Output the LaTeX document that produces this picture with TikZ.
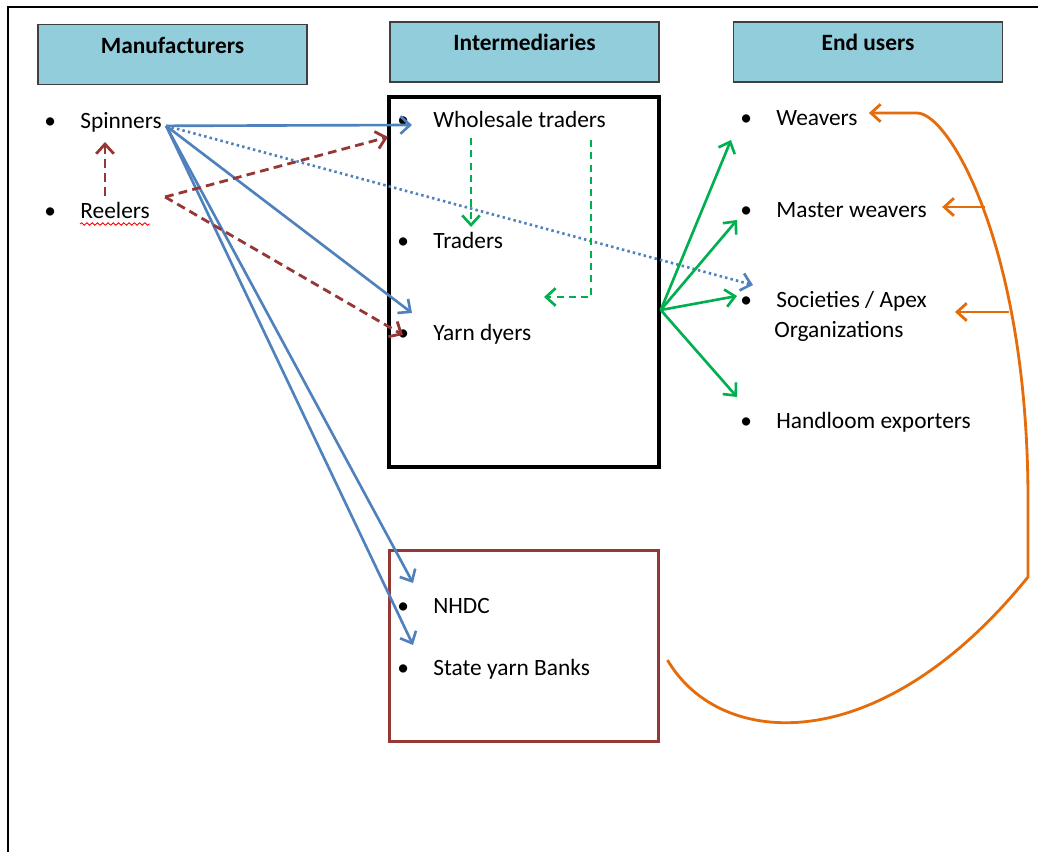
\documentclass[tikz,border=0pt]{standalone}
\usepackage{fontspec}
\setmainfont{Carlito}
\usetikzlibrary{arrows.meta, decorations.pathmorphing}
\definecolor{hdrfill}{HTML}{92CDDC}
\definecolor{hdrline}{HTML}{3F3F3F}
\definecolor{flowblue}{HTML}{4F81BD}
\definecolor{flowred}{HTML}{953735}
\definecolor{flowgreen}{HTML}{00B050}
\definecolor{floworange}{HTML}{E46C0A}
\newcommand{\bul}{\makebox[0.72cm][l]{\textbullet}}

\begin{document}
\begin{tikzpicture}[
    x=0.02cm, y=-0.02cm,
    font=\fontsize{13.3}{16}\selectfont,
    hdr/.style={draw=hdrline, fill=hdrfill, line width=0.9pt, minimum width=5.38cm, minimum height=1.2cm, text height=0.34cm, text depth=0.38cm, inner ysep=0.24cm, font=\fontsize{13.3}{16}\selectfont\bfseries},
    grp/.style={draw=#1, line width=2pt, minimum width=5.4cm},
    item/.style={anchor=base west, inner sep=0pt},
    arr/.style={-{Straight Barb[length=5.5pt, width=10pt]}, line width=1.5pt, color=#1},
    redash/.style={arr=flowred, line width=1.6pt, dash pattern=on 5pt off 3pt},
    grdash/.style={arr=flowgreen, dash pattern=on 4pt off 3pt},
]
\useasboundingbox (0,0) rectangle (1038,852);
\draw[line width=1.6pt] (8,852) |- (1038,7);

\node[hdr] (manu) at (172.5,54.5) {Manufacturers};
\node[hdr] (inter) at (524.5,52) {Intermediaries};
\node[hdr] (endu) at (868,52) {End users};

\node[grp=black, minimum height=7.4cm] (ibox) at (524,282) {};
\node[grp=flowred, line width=1.7pt, minimum height=3.84cm] (sbox) at (524,646) {};

\node[item] (spin) at (44,128) {\bul Spinners};
\node[item] (reel) at (44,218) {\bul Reelers};
\node[item] (whole) at (397,127) {\bul Wholesale traders};
\node[item] (trad) at (397,248) {\bul Traders};
\node[item] (yarn) at (397,340) {\bul Yarn dyers};
\node[item] (nhdc) at (397,613) {\bul NHDC};
\node[item] (syb) at (397,675) {\bul State yarn Banks};
\node[item] (weav) at (740,125) {\bul Weavers};
\node[item] (mast) at (740,217) {\bul Master weavers};
\node[item] (soc) at (740,307) {\bul Societies / Apex};
\node[item] (org) at (774,337) {Organizations};
\node[item] (hand) at (740,428) {\bul Handloom exporters};

\draw[red, line width=0.5pt, decorate, decoration={snake, segment length=3pt, amplitude=0.7pt}]
    ([shift={(36,6)}]reel.base west) -- ([yshift=-0.12cm]reel.base east);

\coordinate (spout) at ([shift={(4,4)}]spin.east);
\coordinate (reout) at ([shift={(15,-13)}]reel.east);
\coordinate (fan) at ([yshift=-0.56cm]ibox.east);

\draw[arr=flowblue] (spout) -- ([shift={(15,-2)}]whole.base west);
\draw[arr=flowblue] (spout) -- ([shift={(15,-27)}]yarn.base west);
\draw[arr=flowblue] (spout) -- ([shift={(16,-30)}]nhdc.base west);
\draw[arr=flowblue] (spout) -- ([shift={(16,-30)}]syb.base west);
\draw[arr=flowblue, dash pattern=on 1.4pt off 1.8pt] (spout) -- ([shift={(13,-22)}]soc.base west);

\draw[redash] ([shift={(61,-22)}]reel.base west) -- ([shift={(61,14)}]spin.base west);
\draw[redash] (reout) -- ([shift={(-9,10)}]whole.base west);
\draw[redash] (reout) -- ([shift={(6,-5)}]yarn.base west);

\draw[grdash] ([shift={(74,11)}]whole.base west) -- ([shift={(74,-21)}]trad.base west);
\draw[grdash] ([shift={(-15,13)}]whole.base east) |- ([shift={(147,-43)}]yarn.base west);

\draw[arr=flowgreen] (fan) -- ([shift={(-9,15)}]weav.base west);
\draw[arr=flowgreen] (fan) -- ([shift={(-3,3)}]mast.base west);
\draw[arr=flowgreen] (fan) -- ([shift={(-3,-11)}]soc.base west);
\draw[arr=flowgreen] (fan) -- ([shift={(-3,-31)}]hand.base west);

\coordinate (mjoin) at (985,207);
\coordinate (sjoin) at (1009,312);
\draw[arr=floworange, line width=1.6pt] ([shift={(7,14)}]sbox.east) .. controls (720,750) and (880,760) .. (1028,577)
    -- (1028,500) .. controls (1028,250) and (950,113) .. (917,113) -- ([shift={(11,-12)}]weav.base east);
\draw[arr=floworange, line width=1.6pt] (mjoin) -- ([shift={(15,-10)}]mast.base east);
\draw[arr=floworange, line width=1.6pt] (sjoin) -- ([shift={(215,5)}]soc.base west);
\end{tikzpicture}
\end{document}
